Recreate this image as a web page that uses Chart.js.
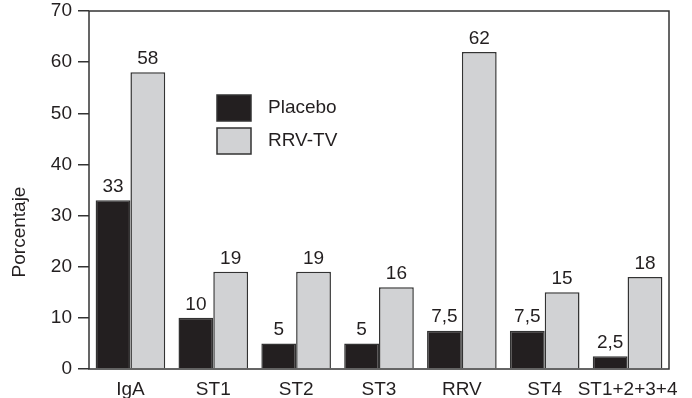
<!DOCTYPE html>
<html>
<head>
<meta charset="utf-8">
<script src="https://cdn.jsdelivr.net/npm/chart.js@4.4.1/dist/chart.umd.min.js"></script>
<style>
  html, body { margin: 0; padding: 0; background: #fff; }
  #wrap { width: 692px; height: 398px; }
</style>
</head>
<body>
<div id="wrap"><canvas id="chart-area" width="692" height="398"></canvas></div>
<script>
var categories = ['IgA', 'ST1', 'ST2', 'ST3', 'RRV', 'ST4', 'ST1+2+3+4'];
var placebo = [33, 10, 5, 5, 7.5, 7.5, 2.5];
var rrvtv = [58, 19, 19, 16, 62, 15, 18];
var yTicks = [0, 10, 20, 30, 40, 50, 60, 70];

var FONT = '"Liberation Sans", Arial, sans-serif';
var INK = '#231f20';

// labels over each bar, legend and frame
var extras = {
  id: 'extras',
  afterDatasetsDraw: function(chart) {
    var ctx = chart.ctx;
    ctx.save();
    ctx.font = '19px ' + FONT;
    ctx.fillStyle = INK;
    ctx.textAlign = 'center';
    ctx.textBaseline = 'bottom';
    chart.data.datasets.forEach(function(ds, i) {
      chart.getDatasetMeta(i).data.forEach(function(bar, j) {
        ctx.fillText(String(ds.data[j]).replace('.', ','), bar.x, bar.y - 4);
      });
    });

    // frame round the plot
    var a = chart.chartArea;
    ctx.strokeStyle = '#333';
    ctx.lineWidth = 1.5;
    ctx.strokeRect(a.left, a.top, a.right - a.left, a.bottom - a.top);

    // legend inside the plot
    var lx = a.left + 128, ly = a.top + 84;
    chart.data.datasets.forEach(function(ds, i) {
      var y = ly + i * 33;
      ctx.fillStyle = ds.backgroundColor;
      ctx.fillRect(lx, y, 34, 26);
      ctx.strokeStyle = '#333';
      ctx.lineWidth = 1.5;
      ctx.strokeRect(lx, y, 34, 26);
      ctx.fillStyle = INK;
      ctx.textAlign = 'left';
      ctx.textBaseline = 'middle';
      ctx.fillText(ds.label, lx + 51, y + 13);
    });

    // axis title
    ctx.translate(20, 232);
    ctx.rotate(-Math.PI / 2);
    ctx.textAlign = 'center';
    ctx.textBaseline = 'middle';
    ctx.fillText('Porcentaje', 0, 0);
    ctx.restore();
  }
};

var config = {
  type: 'bar',
  data: {
    labels: categories,
    datasets: [{
      label: 'Placebo',
      data: placebo,
      backgroundColor: '#231f20',
      borderColor: '#333',
      borderWidth: 1.5
    }, {
      label: 'RRV-TV',
      data: rrvtv,
      backgroundColor: '#d1d2d4',
      borderColor: '#333',
      borderWidth: 1.5
    }]
  },
  options: {
    responsive: false,
    animation: false,
    layout: { padding: { top: 11, right: 23, left: 0, bottom: 0 } },
    plugins: {
      legend: { display: false },
      tooltip: { enabled: false }
    },
    datasets: {
      bar: { categoryPercentage: 0.84, barPercentage: 1 }
    },
    scales: {
      x: {
        grid: { display: false },
        border: { display: false },
        ticks: { color: INK, font: { family: FONT, size: 19 }, padding: 1, maxRotation: 0, autoSkip: false },
        afterFit: function(s) { s.height = 29; s.paddingLeft = 0; s.paddingRight = 0; }
      },
      y: {
        min: 0,
        max: 70,
        afterBuildTicks: function(s) { s.ticks = yTicks.map(function(v) { return { value: v }; }); },
        grid: { drawOnChartArea: false, tickLength: 11, color: '#333', lineWidth: 1.5 },
        border: { display: false },
        ticks: { color: INK, font: { family: FONT, size: 19 }, padding: 6 },
        afterFit: function(s) { s.width = 89; s.paddingTop = 0; s.paddingBottom = 0; }
      }
    }
  },
  plugins: [extras]
};

var ctx = document.getElementById('chart-area').getContext('2d');
window.myBar = new Chart(ctx, config);
</script>
</body>
</html>
